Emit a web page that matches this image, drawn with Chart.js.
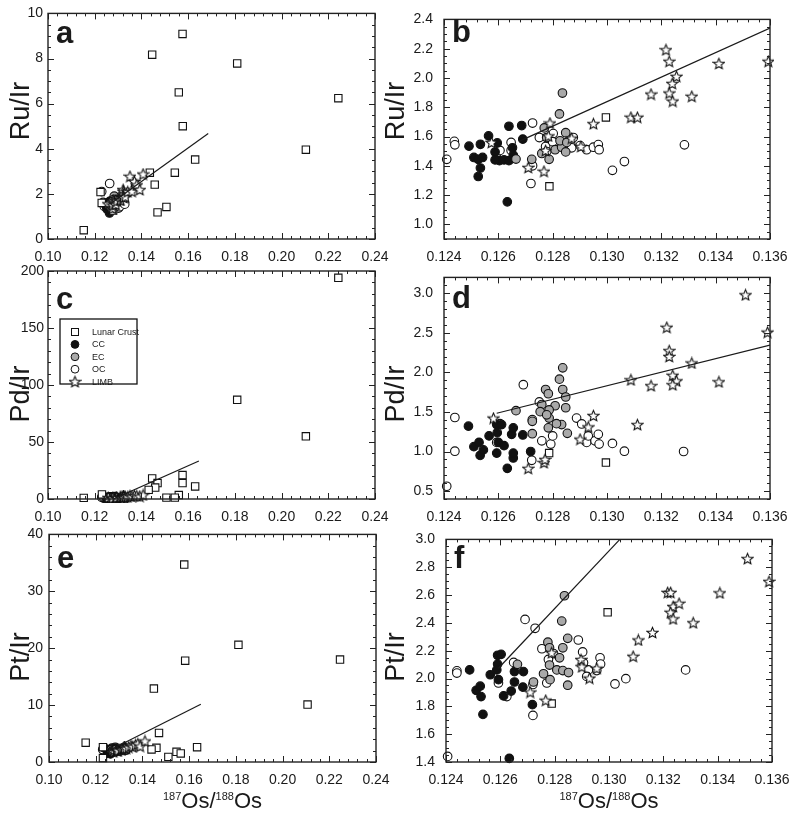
<!DOCTYPE html>
<html>
<head>
<meta charset="utf-8">
<script src="https://cdn.jsdelivr.net/npm/chart.js@4.4.1/dist/chart.umd.min.js"></script>
<style>
  html, body { margin: 0; padding: 0; background: #fff; }
  #wrap { position: relative; width: 800px; height: 813px; overflow: hidden; }
  canvas { position: absolute; }
</style>
</head>
<body>
<div id="wrap">
  <canvas id="pa"></canvas><canvas id="pb"></canvas>
  <canvas id="pc"></canvas><canvas id="pd"></canvas>
  <canvas id="pe"></canvas><canvas id="pf"></canvas>
</div>
<script>
// ---- tick labels ----
const wideX = [0.10, 0.12, 0.14, 0.16, 0.18, 0.20, 0.22, 0.24];
const narrowX = [0.124, 0.126, 0.128, 0.130, 0.132, 0.134, 0.136];
const ruWideY = [0, 2, 4, 6, 8, 10];
const ruNarrowY = [1.0, 1.2, 1.4, 1.6, 1.8, 2.0, 2.2, 2.4];
const pdWideY = [0, 50, 100, 150, 200];
const pdNarrowY = [0.5, 1.0, 1.5, 2.0, 2.5, 3.0];
const ptWideY = [0, 10, 20, 30, 40];
const ptNarrowY = [1.4, 1.6, 1.8, 2.0, 2.2, 2.4, 2.6, 2.8, 3.0];
const legendOrder = ['Lunar Crust', 'CC', 'EC', 'OC', 'LIMB'];

// ---- Ru/Ir vs 187Os/188Os ----
const ruCC = [[0.12492,1.534],[0.12510,1.457],[0.12526,1.444],[0.12542,1.457],[0.12534,1.547],[0.12534,1.385],
  [0.12526,1.327],[0.12564,1.604],[0.12596,1.556],[0.12588,1.494],[0.12604,1.435],[0.12588,1.440],[0.12633,1.154],
  [0.12639,1.670],[0.12686,1.675],[0.12690,1.582],[0.12652,1.523],[0.12655,1.473],[0.12621,1.440],[0.12639,1.435]];
const ruEC = [[0.12836,1.897],[0.12825,1.754],[0.12848,1.626],[0.12769,1.659],[0.12787,1.444],[0.12723,1.444],
  [0.12665,1.446],[0.12809,1.510],[0.12833,1.527],[0.12848,1.495],[0.12827,1.571],[0.12852,1.560],[0.12778,1.593],
  [0.12760,1.484]];
const ruOC = [[0.12410,1.444],[0.12438,1.567],[0.12440,1.543],[0.12726,1.692],[0.12720,1.279],[0.12726,1.400],
  [0.12751,1.593],[0.12774,1.532],[0.12778,1.497],[0.12802,1.620],[0.12800,1.565],[0.12647,1.560],[0.12876,1.593],
  [0.12870,1.523],[0.12901,1.538],[0.12925,1.510],[0.12950,1.527],[0.12968,1.545],[0.12971,1.510],[0.13020,1.369],
  [0.13064,1.429],[0.13285,1.543],[0.12596,1.490],[0.12606,1.505],[0.12647,1.505],
  [0.1230,2.10],[0.1236,1.62],[0.1264,2.46]];
const ruLIMB = [[0.12575,1.560],[0.12710,1.389],[0.12768,1.363],[0.12790,1.692],[0.12784,1.604],[0.12774,1.505],
  [0.12870,1.589],[0.12904,1.532],[0.12950,1.688],[0.13088,1.732],[0.13112,1.732],[0.13162,1.890],[0.13217,2.193],
  [0.13229,2.114],[0.13256,2.011],[0.13240,1.963],[0.13229,1.897],[0.13242,1.842],[0.13312,1.875],[0.13412,2.099],
  [0.13594,2.114],[0.13510,2.78],[0.1370,2.55],[0.1380,2.40],[0.1393,2.19],[0.1407,2.88]];
const ruLunar = [[0.1153,0.39],[0.1225,2.08],[0.1230,1.6],[0.1446,8.17],[0.1576,9.09],[0.1560,6.5],[0.1577,5.0],
  [0.1630,3.52],[0.1543,2.94],[0.1436,2.94],[0.1457,2.41],[0.1469,1.18],[0.1507,1.42],[0.1810,7.78],[0.2104,3.96],
  [0.2243,6.24],[0.12996,1.73],[0.12788,1.26]];
const ruFitWide = [[0.12676,1.567],[0.1686,4.68]];
const ruFitNarrow = [[0.12676,1.567],[0.136,2.341]];

// ---- Pd/Ir vs 187Os/188Os ----
const pdCC = [[0.12490,1.320],[0.12510,1.061],[0.12529,1.115],[0.12533,0.951],[0.12566,1.197],[0.12594,1.340],
  [0.12596,1.238],[0.12600,1.115],[0.12594,0.980],[0.12621,1.074],[0.12633,0.787],[0.12649,1.217],[0.12655,1.299],
  [0.12655,0.918],[0.12655,0.980],[0.12690,1.209],[0.12719,1.000],[0.12545,1.02],[0.12612,1.34]];
const pdEC = [[0.12837,2.057],[0.12825,1.914],[0.12774,1.783],[0.12784,1.730],[0.12837,1.783],[0.12848,1.689],
  [0.12848,1.553],[0.12809,1.578],[0.12833,1.340],[0.12814,1.352],[0.12854,1.230],[0.12665,1.516],[0.12760,1.594],
  [0.12754,1.504],[0.12787,1.525],[0.12787,1.422],[0.12784,1.299],[0.12725,1.381],[0.12725,1.225],[0.12778,1.463]];
const pdOC = [[0.12410,0.561],[0.12440,1.004],[0.12440,1.430],[0.12692,1.844],[0.12723,0.889],[0.12725,1.402],
  [0.12751,1.627],[0.12760,1.135],[0.12793,1.094],[0.12800,1.197],[0.12888,1.422],[0.12907,1.348],[0.12925,1.115],
  [0.12931,1.197],[0.12956,1.135],[0.12968,1.217],[0.12971,1.094],[0.13020,1.102],[0.13064,1.004],[0.13282,1.000],
  [0.12606,1.352],[0.12594,1.115],[0.1230,1.5],[0.1236,2.0]];
const pdLIMB = [[0.12582,1.422],[0.12710,0.787],[0.12768,0.860],[0.12772,0.900],[0.12901,1.156],[0.12931,1.311],
  [0.12950,1.455],[0.13088,1.906],[0.13112,1.340],[0.13162,1.832],[0.13220,2.570],[0.13229,2.275],[0.13229,2.201],
  [0.13242,1.963],[0.13256,1.893],[0.13242,1.844],[0.13312,2.119],[0.13412,1.881],[0.13510,2.980],[0.13591,2.508],
  [0.1370,3.0],[0.1380,2.8],[0.1393,2.5],[0.1407,3.6]];
const pdLunar = [[0.1153,1.0],[0.1231,4.0],[0.1446,18],[0.1469,14],[0.1459,10],[0.1431,8],[0.1576,21],[0.1576,14],
  [0.1630,11],[0.1560,3.5],[0.1543,1.2],[0.1507,1.2],[0.1810,87],[0.2104,55],[0.2243,194],[0.12787,0.98],[0.12996,0.86]];
const pdFitWide = [[0.1280,0],[0.1646,33.3]];
const pdFitNarrow = [[0.12594,1.484],[0.136,2.344]];

// ---- Pt/Ir vs 187Os/188Os ----
const ptCC = [[0.12487,2.062],[0.12511,1.915],[0.12526,1.945],[0.12529,1.870],[0.12536,1.742],[0.12563,2.027],
  [0.12590,2.167],[0.12590,2.104],[0.12593,1.992],[0.12603,2.174],[0.12612,1.875],[0.12640,1.910],[0.12652,1.975],
  [0.12652,2.050],[0.12685,2.050],[0.12683,1.938],[0.12718,1.812],[0.12633,1.426],[0.12587,2.062]];
const ptEC = [[0.12836,2.595],[0.12826,2.413],[0.12848,2.289],[0.12775,2.261],[0.12781,2.221],[0.12830,2.221],
  [0.12818,2.149],[0.12781,2.097],[0.12808,2.062],[0.12830,2.057],[0.12851,2.043],[0.12848,1.952],[0.12759,2.034],
  [0.12783,1.992],[0.12663,2.102],[0.12722,1.975]];
const ptOC = [[0.12406,1.440],[0.12440,2.055],[0.12440,2.039],[0.12691,2.425],[0.12728,2.361],[0.12649,2.116],
  [0.12720,1.735],[0.12720,1.957],[0.12753,2.214],[0.12777,2.137],[0.12796,2.179],[0.12771,1.968],[0.12887,2.277],
  [0.12903,2.191],[0.12906,2.113],[0.12924,2.062],[0.12918,2.015],[0.12955,2.057],[0.12967,2.149],[0.12969,2.104],
  [0.13022,1.961],[0.13062,1.999],[0.13282,2.062],[0.12593,1.968],[0.12624,1.870],[0.1230,2.2],[0.1236,2.5]];
const ptLIMB = [[0.12710,1.903],[0.12767,1.844],[0.12789,2.186],[0.12897,2.137],[0.12900,2.085],[0.12928,2.003],
  [0.12955,2.074],[0.13089,2.160],[0.13108,2.277],[0.13160,2.331],[0.13216,2.619],[0.13227,2.619],[0.13236,2.518],
  [0.13258,2.541],[0.13227,2.476],[0.13236,2.429],[0.13310,2.401],[0.13408,2.616],[0.13510,2.862],[0.13589,2.698],
  [0.1370,3.0],[0.1380,3.2],[0.1390,2.8],[0.1411,3.7]];
const ptLunar = [[0.1157,3.4],[0.1231,2.6],[0.1231,0.7],[0.1449,12.9],[0.1579,34.7],[0.1583,17.8],[0.1471,5.1],
  [0.1460,2.5],[0.1439,2.2],[0.1511,0.9],[0.1546,1.8],[0.1564,1.5],[0.1634,2.6],[0.1811,20.6],[0.2107,10.1],
  [0.2246,18.0],[0.12995,2.476],[0.12789,1.82]];
const ptFitWide = [[0.12593,2.07],[0.1650,10.16]];
const ptFitNarrow = [[0.12593,2.074],[0.1304,3.0]];

const FONT = "'Liberation Sans', Arial, Helvetica, sans-serif";
const INK = '#1a1a1a';

function starImage(size) {
  const c = document.createElement('canvas');
  c.width = c.height = size;
  const g = c.getContext('2d');
  const m = size / 2, R = size / 2 - 0.8, r = R * 0.45;
  g.beginPath();
  for (let i = 0; i < 10; i++) {
    const ang = -Math.PI / 2 + i * Math.PI / 5;
    const rad = i % 2 ? r : R;
    g.lineTo(m + rad * Math.cos(ang), m + 0.6 + rad * Math.sin(ang));
  }
  g.closePath();
  g.fillStyle = '#fff'; g.fill();
  g.strokeStyle = '#111'; g.lineWidth = 1.1; g.stroke();
  return c;
}
const star = starImage(13);

function sets(cc, ec, oc, limb, lunar, fit) {
  const pt = (label, data, style, fill, radius) => ({
    label, data, pointStyle: style, pointRadius: radius,
    pointBackgroundColor: fill, pointBorderColor: '#111', pointBorderWidth: 1.1, clip: 4
  });
  return [
    { label: 'fit', data: fit, showLine: true, borderColor: INK, borderWidth: 1.2, pointRadius: 0, clip: 0 },
    pt('LIMB', limb, star, '#fff', 5),
    pt('Lunar Crust', lunar, 'rect', '#fff', 5.2),
    pt('EC', ec, 'circle', '#a9a9a9', 4.3),
    pt('CC', cc, 'circle', '#111', 4.3),
    pt('OC', oc, 'circle', '#fff', 4.3)
  ];
}

function decor(p) {
  return {
    id: 'decor',
    afterDraw(chart) {
      const { ctx, chartArea: a, scales: { x, y } } = chart;
      const [cx, cy] = p.box;
      ctx.save();
      ctx.strokeStyle = '#222';
      ctx.lineWidth = 1;
      const marks = (scale, ticks, minor, horiz) => {
        const n = Math.round((scale.max - scale.min) / minor);
        for (let i = 0; i <= n; i++) {
          const v = scale.min + i * minor;
          const major = ticks.some(t => Math.abs(t - v) < minor * 0.01);
          const len = major ? 6 : 3;
          const q = Math.round(scale.getPixelForValue(v)) + 0.5;
          ctx.beginPath();
          if (horiz) {
            ctx.moveTo(q, a.bottom); ctx.lineTo(q, a.bottom - len);
            ctx.moveTo(q, a.top); ctx.lineTo(q, a.top + len);
          } else {
            ctx.moveTo(a.left, q); ctx.lineTo(a.left + len, q);
            ctx.moveTo(a.right, q); ctx.lineTo(a.right - len, q);
          }
          ctx.stroke();
        }
      };
      marks(x, p.xTicks, p.xMinor, true);
      marks(y, p.yTicks, p.yMinor, false);
      ctx.lineWidth = 1.4;
      ctx.strokeRect(a.left, a.top, a.right - a.left, a.bottom - a.top);

      ctx.fillStyle = INK;
      ctx.font = 'bold 31px ' + FONT;
      ctx.textAlign = 'left'; ctx.textBaseline = 'alphabetic';
      ctx.fillText(p.letter, a.left + 8, p.letterY - cy);

      ctx.save();
      ctx.translate(p.yLabelPos[0] - cx, p.yLabelPos[1] - cy);
      ctx.rotate(-Math.PI / 2);
      ctx.font = '27px ' + FONT;
      ctx.textAlign = 'center'; ctx.textBaseline = 'middle';
      ctx.fillText(p.yLabel, 0, 0);
      ctx.restore();

      if (p.xTitle) {
        const parts = [['187', 11, -8], ['Os/', 22, 0], ['188', 11, -8], ['Os', 22, 0]];
        let w = 0;
        parts.forEach(s => { ctx.font = s[1] + 'px ' + FONT; s.push(ctx.measureText(s[0]).width); w += s[3]; });
        let tx = (a.left + a.right) / 2 - w / 2;
        const base = 808 - cy;
        ctx.textAlign = 'left'; ctx.textBaseline = 'alphabetic';
        parts.forEach(s => { ctx.font = s[1] + 'px ' + FONT; ctx.fillText(s[0], tx, base + s[2]); tx += s[3]; });
      }

      if (p.legend) {
        const bx = a.left + 12, by = a.top + 48;
        ctx.fillStyle = '#fff';
        ctx.fillRect(bx, by, 77, 65);
        ctx.lineWidth = 1.3; ctx.strokeStyle = '#111';
        ctx.strokeRect(bx, by, 77, 65);
        legendOrder.forEach((name, i) => {
          const ds = chart.data.datasets.find(d => d.label === name);
          const my = by + 13 + i * 12.4, mx = a.left + 27;
          ctx.lineWidth = 1; ctx.strokeStyle = '#111';
          if (ds.pointStyle === 'rect') {
            ctx.fillStyle = '#fff';
            ctx.fillRect(mx - 3.5, my - 3.5, 7, 7); ctx.strokeRect(mx - 3.5, my - 3.5, 7, 7);
          } else if (ds.pointStyle === 'circle') {
            ctx.beginPath(); ctx.arc(mx, my, 3.9, 0, Math.PI * 2);
            ctx.fillStyle = ds.pointBackgroundColor; ctx.fill(); ctx.stroke();
          } else {
            ctx.drawImage(ds.pointStyle, mx - 6.5, my - 6.5);
          }
          ctx.fillStyle = INK;
          ctx.font = '9px ' + FONT;
          ctx.textAlign = 'left'; ctx.textBaseline = 'middle';
          ctx.fillText(name, a.left + 44, my + 0.5);
        });
      }
      ctx.restore();
    }
  };
}

function panel(p) {
  const [cx, cy, cw, ch] = p.box;
  const [L, T, R, B] = p.area;
  const cv = document.getElementById(p.id);
  cv.width = cw; cv.height = ch;
  cv.style.left = cx + 'px'; cv.style.top = cy + 'px';
  const tickFont = { family: FONT, size: 14 };
  new Chart(cv, {
    type: 'scatter',
    data: { datasets: p.datasets },
    options: {
      responsive: false, animation: false, events: [],
      layout: { padding: { left: 0, top: T - cy, right: cx + cw - R, bottom: 0 } },
      scales: {
        x: {
          type: 'linear', min: p.xRange[0], max: p.xRange[1],
          afterBuildTicks: s => { s.ticks = p.xTicks.map(v => ({ value: v })); },
          afterFit: s => { s.height = cy + ch - B; },
          grid: { display: false, drawTicks: false }, border: { display: false },
          ticks: { padding: 10, color: INK, font: tickFont, maxRotation: 0, autoSkip: false,
                   callback: v => Number(v).toFixed(p.xDec) }
        },
        y: {
          type: 'linear', min: p.yRange[0], max: p.yRange[1],
          afterBuildTicks: s => { s.ticks = p.yTicks.map(v => ({ value: v })); },
          afterFit: s => { s.width = L - cx; },
          grid: { display: false, drawTicks: false }, border: { display: false },
          ticks: { padding: p.yPad, color: INK, font: tickFont, autoSkip: false,
                   callback: v => Number(v).toFixed(p.yDec) }
        }
      },
      plugins: { legend: { display: false }, tooltip: { enabled: false } }
    },
    plugins: [decor(p)]
  });
}

const row1 = 111, row2 = 394, row3 = 657;
panel({ id: 'pa', box: [0, 0, 400, 268], area: [48, 11, 375, 239], xRange: [0.10, 0.24], yRange: [0, 10],
  xTicks: wideX, yTicks: ruWideY, xMinor: 0.004, yMinor: 0.5, xDec: 2, yDec: 0, yPad: 5,
  letter: 'a', letterY: 43, yLabel: 'Ru/Ir', yLabelPos: [22, row1],
  datasets: sets(ruCC, ruEC, ruOC, ruLIMB, ruLunar, ruFitWide) });
panel({ id: 'pb', box: [378, 0, 422, 268], area: [444, 11, 770, 239], xRange: [0.124, 0.136], yRange: [0.9, 2.4],
  xTicks: narrowX, yTicks: ruNarrowY, xMinor: 0.0004, yMinor: 0.05, xDec: 3, yDec: 1, yPad: 11,
  letter: 'b', letterY: 42, yLabel: 'Ru/Ir', yLabelPos: [397, row1],
  datasets: sets(ruCC, ruEC, ruOC, ruLIMB, ruLunar, ruFitNarrow) });
panel({ id: 'pc', box: [0, 258, 400, 268], area: [48, 271, 375, 499], xRange: [0.10, 0.24], yRange: [0, 200],
  xTicks: wideX, yTicks: pdWideY, xMinor: 0.004, yMinor: 10, xDec: 2, yDec: 0, yPad: 4,
  letter: 'c', letterY: 309, yLabel: 'Pd/Ir', yLabelPos: [22, row2], legend: true,
  datasets: sets(pdCC, pdEC, pdOC, pdLIMB, pdLunar, pdFitWide) });
panel({ id: 'pd', box: [378, 258, 422, 268], area: [444, 272, 770, 499], xRange: [0.124, 0.136], yRange: [0.4, 3.2],
  xTicks: narrowX, yTicks: pdNarrowY, xMinor: 0.0004, yMinor: 0.1, xDec: 3, yDec: 1, yPad: 11,
  letter: 'd', letterY: 308, yLabel: 'Pd/Ir', yLabelPos: [397, row2],
  datasets: sets(pdCC, pdEC, pdOC, pdLIMB, pdLunar, pdFitNarrow) });
panel({ id: 'pe', box: [0, 520, 400, 293], area: [49, 533, 376, 762], xRange: [0.10, 0.24], yRange: [0, 40],
  xTicks: wideX, yTicks: ptWideY, xMinor: 0.004, yMinor: 2, xDec: 2, yDec: 0, yPad: 6,
  letter: 'e', letterY: 568, yLabel: 'Pt/Ir', yLabelPos: [22, row3], xTitle: true,
  datasets: sets(ptCC, ptEC, ptOC, ptLIMB, ptLunar, ptFitWide) });
panel({ id: 'pf', box: [378, 520, 422, 293], area: [446, 533, 772, 762], xRange: [0.124, 0.136], yRange: [1.4, 3.0],
  xTicks: narrowX, yTicks: ptNarrowY, xMinor: 0.0004, yMinor: 0.05, xDec: 3, yDec: 1, yPad: 11,
  letter: 'f', letterY: 568, yLabel: 'Pt/Ir', yLabelPos: [397, row3], xTitle: true,
  datasets: sets(ptCC, ptEC, ptOC, ptLIMB, ptLunar, ptFitNarrow) });
</script>
</body>
</html>
